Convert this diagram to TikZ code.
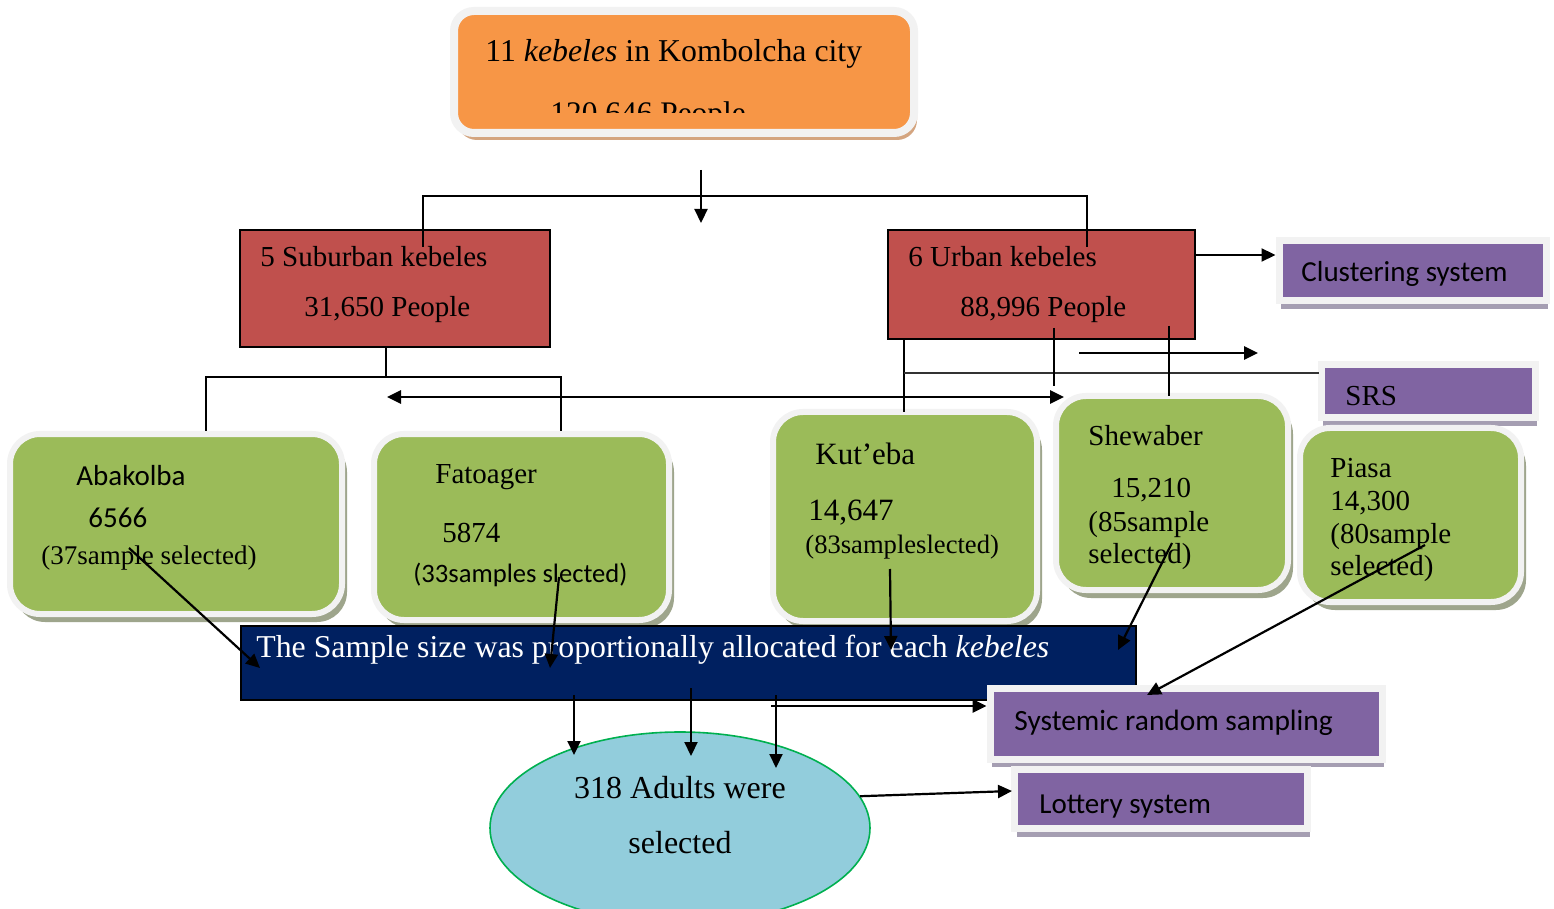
\documentclass[tikz,border=0pt]{standalone}
\usepackage{fontspec}
\setmainfont{Liberation Serif}
\newfontfamily\calibri{Carlito}
\usetikzlibrary{arrows.meta,shapes.geometric,shadows}

\definecolor{korange}{RGB}{247,150,70}
\definecolor{kred}{RGB}{192,80,77}
\definecolor{kgreen}{RGB}{155,187,89}
\definecolor{kpurple}{RGB}{128,100,162}
\definecolor{knavy}{RGB}{0,32,96}
\definecolor{kblue}{RGB}{146,205,220}
\definecolor{kedge}{RGB}{0,176,80}
\definecolor{kframe}{RGB}{242,242,242}
\definecolor{oshadow}{RGB}{212,165,128}
\definecolor{gshadow}{RGB}{158,165,140}
\definecolor{pshadow}{RGB}{165,158,178}

\begin{document}
\begin{tikzpicture}[x=0.5pt, y=-0.5pt,
    box/.style={inner sep=0pt},
    topbox/.style={box, rounded corners=10pt, fill=korange, draw=kframe, line width=4pt,
      drop shadow={shadow xshift=1.5pt, shadow yshift=-3.5pt, fill=oshadow, opacity=1}},
    areabox/.style={box, fill=kred, draw=black, line width=0.8pt},
    kebbox/.style={box, rounded corners=15pt, fill=kgreen, draw=kframe, line width=3pt,
      drop shadow={shadow xshift=2.5pt, shadow yshift=-4pt, fill=gshadow, opacity=1}},
    methbox/.style={box, fill=kpurple, draw=kframe, line width=3.5pt,
      drop shadow={shadow xshift=1pt, shadow yshift=-4pt, fill=pshadow, opacity=1}},
    allocbox/.style={box, fill=knavy, draw=black, line width=1pt},
    adultsell/.style={box, ellipse, fill=kblue, draw=kedge, line width=0.8pt,
      minimum width=190pt, minimum height=96pt},
    tx/.style={anchor=base west, inner sep=0pt, font=\rmfamily\fontsize{#1pt}{#1pt}\selectfont},
    tx/.default=14.5,
    cx/.style={anchor=base west, inner sep=0pt, font=\calibri\fontsize{#1pt}{#1pt}\selectfont},
    cx/.default=14.5,
    link/.style={line width=0.75pt},
    arrow/.style={-{Triangle[length=7pt,width=6.5pt]}, line width=1.1pt},
    twoway/.style={{Triangle[length=7pt,width=6.5pt]}-{Triangle[length=7pt,width=6.5pt]}, line width=1.4pt}
  ]
  \useasboundingbox[fill=white] (0,0) rectangle (1554,909);

  % whole city
  \node[topbox, minimum width=230pt, minimum height=61pt] (city) at (684,72) {};
  \node[tx=15.9] (citytxt) at (485,62) {11 \textit{kebeles} in Kombolcha city};
  \begin{scope}
    \clip (458,16) rectangle (910,113);
    \node[tx=15.7] (citypop) at (550,124) {120,646 People};
  \end{scope}

  % suburban / urban
  \node[areabox, minimum width=155pt, minimum height=58.5pt] (sub) at (395,288.5) {};
  \node[tx] (subtxt) at (260,267) {5 Suburban kebeles};
  \node[tx] (subpop) at (304,317) {31,650 People};
  \node[areabox, minimum width=153.5pt, minimum height=54.5pt] (urb) at (1041.5,284.5) {};
  \node[tx] (urbtxt) at (908,267) {6 Urban kebeles};
  \node[tx] (urbpop) at (960,317) {88,996 People};

  % methods
  \node[methbox, minimum width=133.5pt, minimum height=30pt] (clus) at (1412.5,271) {};
  \node[cx] (clustxt) at (1301,282) {Clustering system};
  \node[methbox, minimum width=107pt, minimum height=26.5pt] (srs) at (1428,391.5) {};
  \node[tx] (srstxt) at (1345,406) {SRS};

  % kebeles
  \node[kebbox, minimum width=166pt, minimum height=90pt] (abak) at (176,524) {};
  \node[cx] (abakname) at (76,485) {Abakolba};
  \node[cx] (abakpop) at (88,527) {6566};
  \node[tx=13.5] (abaksel) at (41,564) {(37sample selected)};
  \node[kebbox, minimum width=147.5pt, minimum height=93pt] (fato) at (521.5,527) {};
  \node[tx] (fatoname) at (435,483) {Fatoager};
  \node[tx] (fatopop) at (442,542) {5874};
  \node[cx=13.3] (fatosel) at (413,582) {(33samples slected)};
  \node[kebbox, minimum width=132pt, minimum height=104.5pt] (kut) at (905,516.5) {};
  \node[tx=15.5] (kutname) at (815,465) {Kut’eba};
  \node[tx=15.5] (kutpop) at (808,520) {14,647};
  \node[tx=13.3] (kutsel) at (805,553) {(83sampleslected)};
  \node[kebbox, minimum width=116pt, minimum height=97pt] (shew) at (1172,493) {};
  \node[tx] (shewname) at (1088,445) {Shewaber};
  \node[tx] (shewpop) at (1111,497) {15,210};
  \node[tx] (shewsel) at (1088,531) {(85sample};
  \node[tx] (shewsel2) at (1088,563) {selected)};
  \node[kebbox, minimum width=110.5pt, minimum height=87pt] (piasa) at (1410.5,515) {};
  \node[tx] (piasaname) at (1330,477) {Piasa};
  \node[tx] (piasapop) at (1330,510) {14,300};
  \node[tx] (piasasel) at (1330,543) {(80sample};
  \node[tx] (piasasel2) at (1330,575) {selected)};

  % allocation and sample
  \node[allocbox, minimum width=447.5pt, minimum height=37pt] (alloc) at (688,663) {};
  \node[tx=15.9, text=white] (alloctxt) at (256,657) {The Sample size was proportionally allocated for each \textit{kebeles}};
  \node[methbox, minimum width=196pt, minimum height=35.5pt] (sys) at (1186,723.5) {};
  \node[cx=14.7] (systxt) at (1014,730) {Systemic random sampling};
  \node[methbox, minimum width=146.5pt, minimum height=29.5pt] (lot) at (1161,799) {};
  \node[cx] (lottxt) at (1039,813) {Lottery system};
  \node[adultsell] (adults) at (680,828) {};
  \node[tx=16, anchor=base] (adultstxt) at (680,798) {318 Adults were};
  \node[tx=16, anchor=base] (adultstxt2) at (680,853) {selected};

  % connectors
  \coordinate (split) at (701,170);
  \coordinate (splittip) at (701,223);
  \coordinate (subin) at (423,247);
  \coordinate (urbin) at (1087,247);
  \coordinate (splitbar) at (1087,196);
  \draw[arrow] (split) -- (splittip);
  \draw[link] (subin) |- (splitbar) -- (urbin);

  \coordinate (subbar) at (386,377);
  \coordinate (abakin) at (206,431);
  \coordinate (fatoin) at (561,431);
  \draw[link] (subbar |- sub.south) -- (subbar);
  \draw[link] (abakin) |- (subbar) -| (fatoin);
  \coordinate (bothl) at (387,397);
  \coordinate (bothr) at (1064,397);
  \draw[twoway] (bothl) -- (bothr);

  \coordinate (kutin) at (904,412);
  \coordinate (srsbar) at (1319,373);
  \draw[link] (kutin |- urb.south) -- (kutin);
  \draw[link, gray!40!black] (kutin |- srsbar) -- (srsbar);
  \coordinate (urbmid) at (1054,328);
  \coordinate (urbmidend) at (1054,386);
  \draw[link] (urbmid) -- (urbmidend);
  \coordinate (urbright) at (1169,326);
  \coordinate (shewin) at (1169,396);
  \draw[link] (urbright) -- (shewin);
  \coordinate (freel) at (1079,353);
  \coordinate (freer) at (1258,353);
  \draw[arrow, line width=1.4pt] (freel) -- (freer);
  \coordinate (clusarr) at (1196,255);
  \draw[arrow] (clusarr) -- (clusarr -| clus.west);

  \coordinate (abak-out) at (129,548);  \coordinate (abak-tip) at (260,668);
  \coordinate (fato-out) at (559,577);  \coordinate (fato-tip) at (550,668);
  \coordinate (kut-out) at (890,569);   \coordinate (kut-tip) at (891,650);
  \coordinate (shew-out) at (1172,543); \coordinate (shew-tip) at (1118,650);
  \coordinate (piasa-out) at (1425,545); \coordinate (piasa-tip) at (1147,695);
  \foreach \k in {abak,fato,kut,shew,piasa}
    \draw[arrow] (\k-out) -- (\k-tip);

  \coordinate (alloc-1) at (574,695); \coordinate (adults-1) at (574,755);
  \coordinate (alloc-2) at (691,688); \coordinate (adults-2) at (691,756);
  \coordinate (alloc-3) at (776,695); \coordinate (adults-3) at (776,768);
  \foreach \i in {1,2,3}
    \draw[arrow] (alloc-\i) -- (adults-\i);
  \coordinate (sysfrom) at (771,706);
  \draw[arrow, line width=1.4pt] (sysfrom) -- (sysfrom -| sys.west);
  \coordinate (lotarr) at (1012,791);
  \draw[arrow] (adults.10) -- (lotarr);
\end{tikzpicture}
\end{document}
